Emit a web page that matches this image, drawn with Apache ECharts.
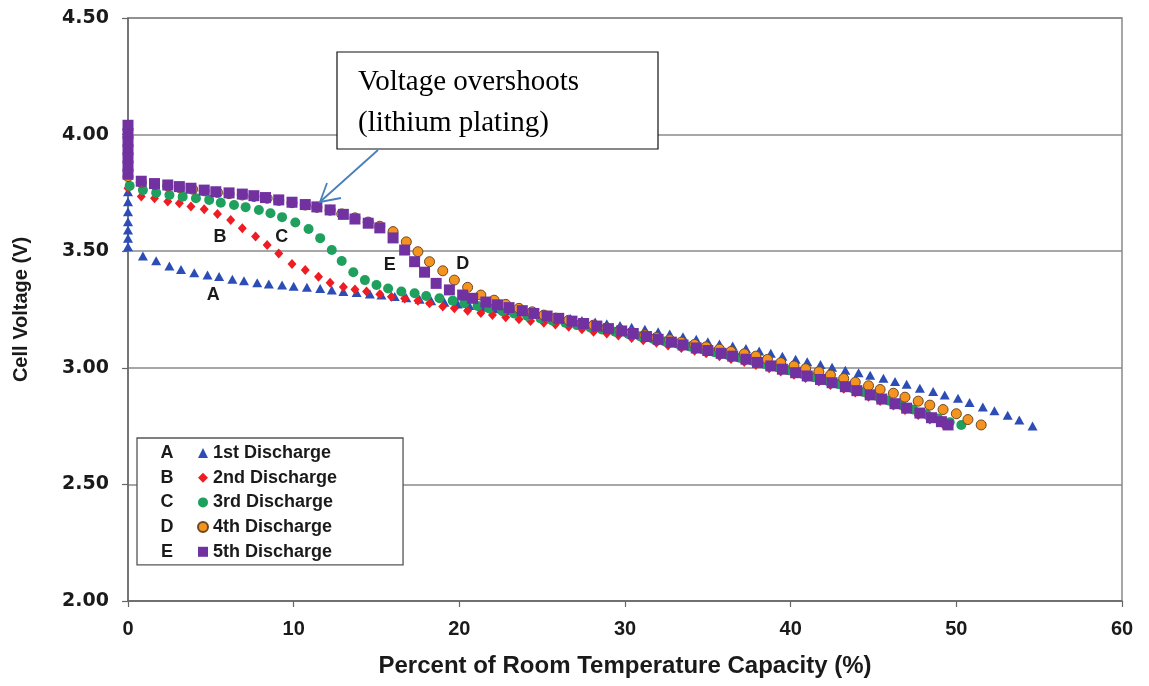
<!DOCTYPE html>
<html>
<head>
<meta charset="utf-8">
<script src="https://cdn.jsdelivr.net/npm/echarts@6/dist/echarts.min.js"></script>
<style>html,body{margin:0;padding:0;background:#fff}#chart{width:1149px;height:686px}</style>
</head>
<body>
<div id="chart"></div>
<script>
// ---- data ----
const seriesNames = ['1st Discharge', '2nd Discharge', '3rd Discharge', '4th Discharge', '5th Discharge'];
const seriesLetters = ['A', 'B', 'C', 'D', 'E'];
const xTickLabels = ['0', '10', '20', '30', '40', '50', '60'];
const yTickLabels = ['2.00', '2.50', '3.00', '3.50', '4.00', '4.50'];

const cap1 = [0,0,0,0,0,0,0,0.9,1.7,2.5,3.2,4.0,4.8,5.5,6.3,7.0,7.8,8.5,9.3,10.0,10.8,11.6,12.3,13.0,13.8,14.6,15.3,16.1,16.8,17.6,18.3,19.1,19.9,20.6,21.4,22.1,22.9,23.6,24.4,25.2,25.9,26.7,27.4,28.2,28.9,29.7,30.4,31.2,32.0,32.7,33.5,34.3,35.0,35.7,36.5,37.3,38.1,38.8,39.5,40.3,41.0,41.8,42.5,43.3,44.1,44.8,45.6,46.3,47.0,47.8,48.6,49.3,50.1,50.8,51.6,52.3,53.1,53.8,54.6];
const volt1 = [3.755,3.712,3.669,3.626,3.591,3.555,3.519,3.479,3.459,3.437,3.422,3.408,3.398,3.391,3.380,3.373,3.365,3.359,3.355,3.350,3.345,3.340,3.334,3.327,3.323,3.317,3.312,3.306,3.300,3.294,3.288,3.281,3.274,3.267,3.260,3.253,3.246,3.239,3.232,3.225,3.218,3.211,3.203,3.196,3.189,3.181,3.174,3.165,3.155,3.145,3.133,3.122,3.112,3.102,3.093,3.083,3.072,3.062,3.050,3.037,3.026,3.014,3.002,2.990,2.979,2.968,2.955,2.941,2.929,2.912,2.898,2.883,2.869,2.851,2.832,2.816,2.797,2.776,2.750];

const cap2 = [0,0.8,1.6,2.4,3.1,3.8,4.6,5.4,6.2,6.9,7.7,8.4,9.1,9.9,10.7,11.5,12.2,13.0,13.7,14.4,15.2,15.9,16.7,17.5,18.2,19.0,19.7,20.5,21.3,22.0,22.8,23.6,24.3,25.1,25.8,26.6,27.4,28.1,28.9,29.6,30.4,31.1,31.9,32.6,33.4,34.2,34.9,35.7,36.4,37.2,37.9,38.7,39.4,40.2,40.9,41.7,42.4,43.2,43.9,44.7,45.4,46.2,46.9,47.7,48.4,49.2];
const volt2 = [3.770,3.735,3.727,3.713,3.706,3.692,3.680,3.660,3.634,3.598,3.563,3.527,3.490,3.445,3.419,3.390,3.365,3.347,3.336,3.327,3.315,3.305,3.297,3.288,3.277,3.263,3.255,3.245,3.235,3.226,3.217,3.208,3.201,3.193,3.186,3.176,3.165,3.155,3.147,3.138,3.128,3.118,3.107,3.096,3.085,3.073,3.062,3.050,3.038,3.025,3.012,2.998,2.984,2.970,2.956,2.941,2.926,2.910,2.894,2.876,2.858,2.838,2.819,2.798,2.778,2.758];

const cap3 = [0.1,0.9,1.7,2.5,3.3,4.1,4.9,5.6,6.4,7.1,7.9,8.6,9.3,10.1,10.9,11.6,12.3,12.9,13.6,14.3,15.0,15.7,16.5,17.3,18.0,18.8,19.6,20.3,21.1,21.8,22.6,23.3,24.1,24.9,25.6,26.4,27.1,27.9,28.6,29.4,30.2,30.9,31.7,32.4,33.2,33.9,34.7,35.4,36.2,36.9,37.7,38.4,39.2,39.9,40.7,41.4,42.2,42.9,43.7,44.4,45.2,45.9,46.7,47.4,48.2,48.9,49.6,50.3];
const volt3 = [3.780,3.762,3.751,3.741,3.734,3.727,3.720,3.708,3.698,3.689,3.677,3.663,3.646,3.623,3.595,3.556,3.505,3.458,3.410,3.376,3.355,3.340,3.327,3.320,3.308,3.298,3.288,3.277,3.265,3.254,3.243,3.233,3.222,3.212,3.203,3.193,3.183,3.173,3.164,3.155,3.145,3.135,3.124,3.113,3.102,3.091,3.079,3.067,3.055,3.043,3.030,3.017,3.003,2.989,2.975,2.960,2.945,2.930,2.913,2.896,2.879,2.860,2.840,2.821,2.801,2.783,2.767,2.755];

const cap4 = [0,0.8,1.6,2.4,3.1,3.9,4.6,5.4,6.1,6.9,7.6,8.4,9.1,9.9,10.7,11.4,12.2,12.9,13.7,14.5,15.2,16.0,16.8,17.5,18.2,19.0,19.7,20.5,21.3,22.1,22.8,23.6,24.4,25.1,25.8,26.6,27.4,28.1,28.9,29.7,30.4,31.2,31.9,32.7,33.4,34.2,34.9,35.7,36.4,37.2,37.9,38.6,39.4,40.2,40.9,41.7,42.4,43.2,43.9,44.7,45.4,46.2,46.9,47.7,48.4,49.2,50.0,50.7,51.5];
const volt4 = [3.820,3.795,3.786,3.780,3.773,3.766,3.759,3.752,3.747,3.741,3.735,3.727,3.718,3.708,3.698,3.688,3.676,3.660,3.643,3.625,3.607,3.584,3.540,3.498,3.455,3.416,3.376,3.345,3.312,3.290,3.272,3.255,3.240,3.226,3.213,3.204,3.191,3.183,3.171,3.162,3.152,3.141,3.130,3.120,3.110,3.100,3.090,3.080,3.070,3.060,3.050,3.036,3.022,3.008,2.996,2.983,2.969,2.954,2.938,2.923,2.907,2.891,2.874,2.857,2.840,2.821,2.803,2.778,2.755];

const cap5 = [0,0,0,0,0,0,0,0.8,1.6,2.4,3.1,3.8,4.6,5.3,6.1,6.9,7.6,8.3,9.1,9.9,10.7,11.4,12.2,13.0,13.7,14.5,15.2,16.0,16.7,17.3,17.9,18.6,19.4,20.2,20.8,21.6,22.3,23.0,23.8,24.5,25.3,26.0,26.8,27.5,28.3,29.0,29.8,30.5,31.3,32.0,32.8,33.5,34.3,35.0,35.8,36.5,37.3,38.0,38.8,39.5,40.3,41.0,41.8,42.5,43.3,44.0,44.8,45.5,46.3,47.0,47.8,48.5,49.1,49.5];
const volt5 = [4.040,4.005,3.970,3.935,3.900,3.865,3.830,3.800,3.790,3.784,3.777,3.770,3.762,3.755,3.750,3.745,3.738,3.730,3.720,3.710,3.700,3.690,3.677,3.658,3.638,3.620,3.600,3.557,3.505,3.455,3.410,3.362,3.334,3.312,3.298,3.282,3.270,3.258,3.245,3.233,3.222,3.212,3.200,3.190,3.179,3.168,3.158,3.147,3.134,3.122,3.110,3.098,3.085,3.074,3.062,3.050,3.037,3.023,3.008,2.994,2.979,2.965,2.950,2.936,2.919,2.902,2.884,2.866,2.846,2.827,2.806,2.786,2.769,2.755];

// curve letter positions in data coordinates [capacity, voltage]
const letterPosA = [5.15, 3.312];
const letterPosB = [5.55, 3.560];
const letterPosC = [9.28, 3.560];
const letterPosD = [20.2, 3.446];
const letterPosE = [15.8, 3.441];

// ---- build ----
function zip(xs, ys) {
  const n = Math.min(xs.length, ys.length);
  const out = [];
  for (let i = 0; i < n; i++) out.push([xs[i], ys[i]]);
  return out;
}
const caps = [cap1, cap2, cap3, cap4, cap5];
const volts = [volt1, volt2, volt3, volt4, volt5];
const styles = [
  { symbol: 'triangle', size: [10, 9], color: '#2C4DB6' },
  { symbol: 'diamond', size: [9, 10], color: '#EE1D23' },
  { symbol: 'circle', size: 10, color: '#1FA05E' },
  { symbol: 'circle', size: 10, color: '#F4931F', border: '#6E4A22' },
  { symbol: 'rect', size: 11, color: '#7231A0' }
];

const chart = echarts.init(document.getElementById('chart'), null, { renderer: 'canvas' });

const series = seriesNames.map((name, i) => ({
  name: name,
  type: 'scatter',
  symbol: styles[i].symbol,
  symbolSize: styles[i].size,
  data: zip(caps[i], volts[i]),
  itemStyle: Object.assign({ color: styles[i].color, opacity: 1 },
    styles[i].border ? { borderColor: styles[i].border, borderWidth: 1 } : {}),
  emphasis: { disabled: true },
  z: 2 + i
}));

const labelFont = 'Liberation Sans, Arial, sans-serif';

chart.setOption({
  animation: false,
  backgroundColor: '#fff',
  grid: { left: 128, right: 27, top: 18, bottom: 85, show: true, borderColor: '#8a8a8a', borderWidth: 1.5, backgroundColor: 'transparent' },
  xAxis: {
    type: 'value', min: 0, max: 60, interval: 10,
    name: 'Percent of Room Temperature Capacity (%)',
    nameLocation: 'middle', nameGap: 53,
    nameTextStyle: { fontFamily: labelFont, fontWeight: 'bold', fontSize: 24, color: '#1a1a1a' },
    axisLine: { show: true, lineStyle: { color: '#666', width: 1.5 } },
    axisTick: { show: true, inside: false, length: 6, lineStyle: { color: '#666', width: 1.2 } },
    axisLabel: { fontFamily: labelFont, fontWeight: 'bold', fontSize: 20, color: '#1a1a1a', margin: 18,
      formatter: (v) => xTickLabels[Math.round(v / 10)] },
    splitLine: { show: false }
  },
  yAxis: {
    type: 'value', min: 2, max: 4.5, interval: 0.5,
    name: 'Cell Voltage (V)',
    nameLocation: 'middle', nameGap: 97, nameRotate: 90,
    nameTextStyle: { fontFamily: labelFont, fontWeight: 'bold', fontSize: 20, color: '#1a1a1a' },
    axisLine: { show: true, lineStyle: { color: '#666', width: 1.5 } },
    axisTick: { show: true, inside: false, length: 6, lineStyle: { color: '#666', width: 1.2 } },
    axisLabel: { fontFamily: 'DejaVu Sans, sans-serif', fontWeight: 'bold', fontSize: 19, color: '#1a1a1a', margin: 19,
      formatter: (v) => yTickLabels[Math.round((v - 2) / 0.5)] },
    splitLine: { show: true, lineStyle: { color: '#8a8a8a', width: 1.5 } }
  },
  legend: {
    orient: 'vertical', left: 137, top: 438,
    padding: [5, 66, 3, 60],
    itemWidth: 10, itemHeight: 10, itemGap: 4.7,
    backgroundColor: '#fff', borderColor: '#555', borderWidth: 1.3,
    selectedMode: false,
    textStyle: { fontFamily: labelFont, fontWeight: 'bold', fontSize: 18, lineHeight: 20, color: '#1a1a1a' },
    data: seriesNames
  },
  series: series
});

// annotations (letters positioned through the chart's own coordinate conversion)
const letterPositions = [letterPosA, letterPosB, letterPosC, letterPosD, letterPosE];
const graphics = [];
seriesLetters.forEach((L, i) => {
  const p = chart.convertToPixel({ gridIndex: 0 }, letterPositions[i]);
  graphics.push({ type: 'text', z: 100, style: { text: L, x: p[0], y: p[1], align: 'center', verticalAlign: 'middle',
    font: 'bold 18px "Liberation Sans", Arial, sans-serif', fill: '#1a1a1a' } });
});
// legend row letters
seriesLetters.forEach((L, i) => {
  graphics.push({ type: 'text', z: 100, style: { text: L, x: 167, y: 453 + i * 24.7, align: 'center', verticalAlign: 'middle',
    font: 'bold 18px "Liberation Sans", Arial, sans-serif', fill: '#1a1a1a' } });
});
// callout box
graphics.push({ type: 'rect', z: 100, shape: { x: 337, y: 52, width: 321, height: 97 },
  style: { fill: '#fff', stroke: '#111', lineWidth: 1.2 } });
graphics.push({ type: 'text', z: 101, style: { text: 'Voltage overshoots\n(lithium plating)', x: 358, y: 62,
  font: '29px "Liberation Serif", "Times New Roman", serif', fill: '#000', lineHeight: 41, verticalAlign: 'top' } });
// arrow
graphics.push({ type: 'line', z: 101, shape: { x1: 378, y1: 150, x2: 321, y2: 201 }, style: { stroke: '#4A7EBB', lineWidth: 1.8 } });
graphics.push({ type: 'polyline', z: 101, shape: { points: [[327, 183], [320, 202], [341, 198]] }, style: { stroke: '#4A7EBB', lineWidth: 1.8, fill: null } });

chart.setOption({ graphic: { elements: graphics } });
</script>
</body>
</html>
